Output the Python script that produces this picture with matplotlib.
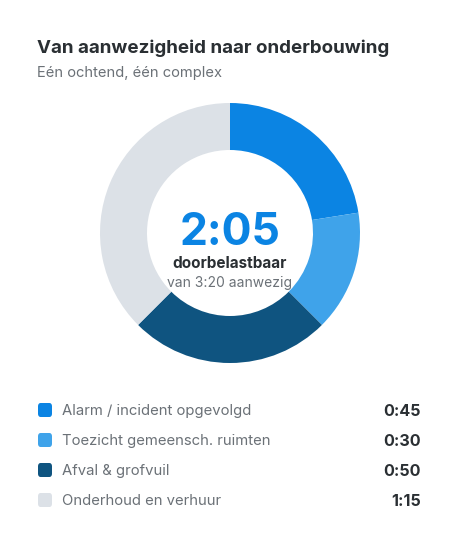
import matplotlib
matplotlib.use("Agg")
import matplotlib.pyplot as plt
from matplotlib.patches import FancyBboxPatch

categories = ["Alarm / incident opgevolgd", "Toezicht gemeensch. ruimten", "Afval & grofvuil", "Onderhoud en verhuur"]
minutes = [45, 30, 50, 75]
value_labels = ["0:45", "0:30", "0:50", "1:15"]
colors = ["#0b84e3", "#3fa3ea", "#0f5480", "#dce1e7"]
title = "Van aanwezigheid naar onderbouwing"
subtitle = "Eén ochtend, één complex"
center_value = "2:05"
center_label = "doorbelastbaar"
center_sub = "van 3:20 aanwezig"

plt.rcParams['font.family'] = ['Inter', 'DejaVu Sans']

W, H = 460, 540
fig = plt.figure(figsize=(W / 100, H / 100), dpi=100)
fig.patch.set_facecolor("white")

def fx(x):
    return x / W

def fy(y):
    return 1 - y / H

# Donut
ax = fig.add_axes([fx(100), fy(363), 260 / W, 260 / H])
ax.pie(minutes, colors=colors, startangle=90, counterclock=False, radius=1,
       wedgeprops=dict(width=47 / 130, linewidth=0))
ax.set_xlim(-1, 1)
ax.set_ylim(-1, 1)
ax.set_aspect("equal")
ax.axis("off")

fig.text(fx(37), fy(48), title, fontsize=13.5, fontweight="bold", color="#2a2f33", va="center", ha="left")
fig.text(fx(37), fy(73), subtitle, fontsize=10.6, color="#6b7177", va="center", ha="left")

fig.text(fx(230), fy(233), center_value, fontsize=32, fontweight="bold", color="#0b84e3", va="center", ha="center")
fig.text(fx(230), fy(263), center_label, fontsize=11, fontweight="bold", color="#2a2f33", va="center", ha="center")
fig.text(fx(230), fy(283), center_sub, fontsize=10, color="#6b7177", va="center", ha="center")

rows_y = [410, 440, 470, 500]
for y, cat, val, col in zip(rows_y, categories, value_labels, colors):
    sq = FancyBboxPatch((fx(38), fy(y + 7)), 14 / W, 14 / H,
                        boxstyle="round,pad=0,rounding_size=0.006",
                        transform=fig.transFigure, facecolor=col, edgecolor="none")
    fig.patches.append(sq)
    fig.text(fx(62), fy(y + 1), cat, fontsize=10.7, color="#6b7177", va="center", ha="left")
    fig.text(fx(421), fy(y + 1), val, fontsize=11.6, fontweight="bold", color="#2a2f33", va="center", ha="right")

fig.savefig("out.png", dpi=100, facecolor="white")
